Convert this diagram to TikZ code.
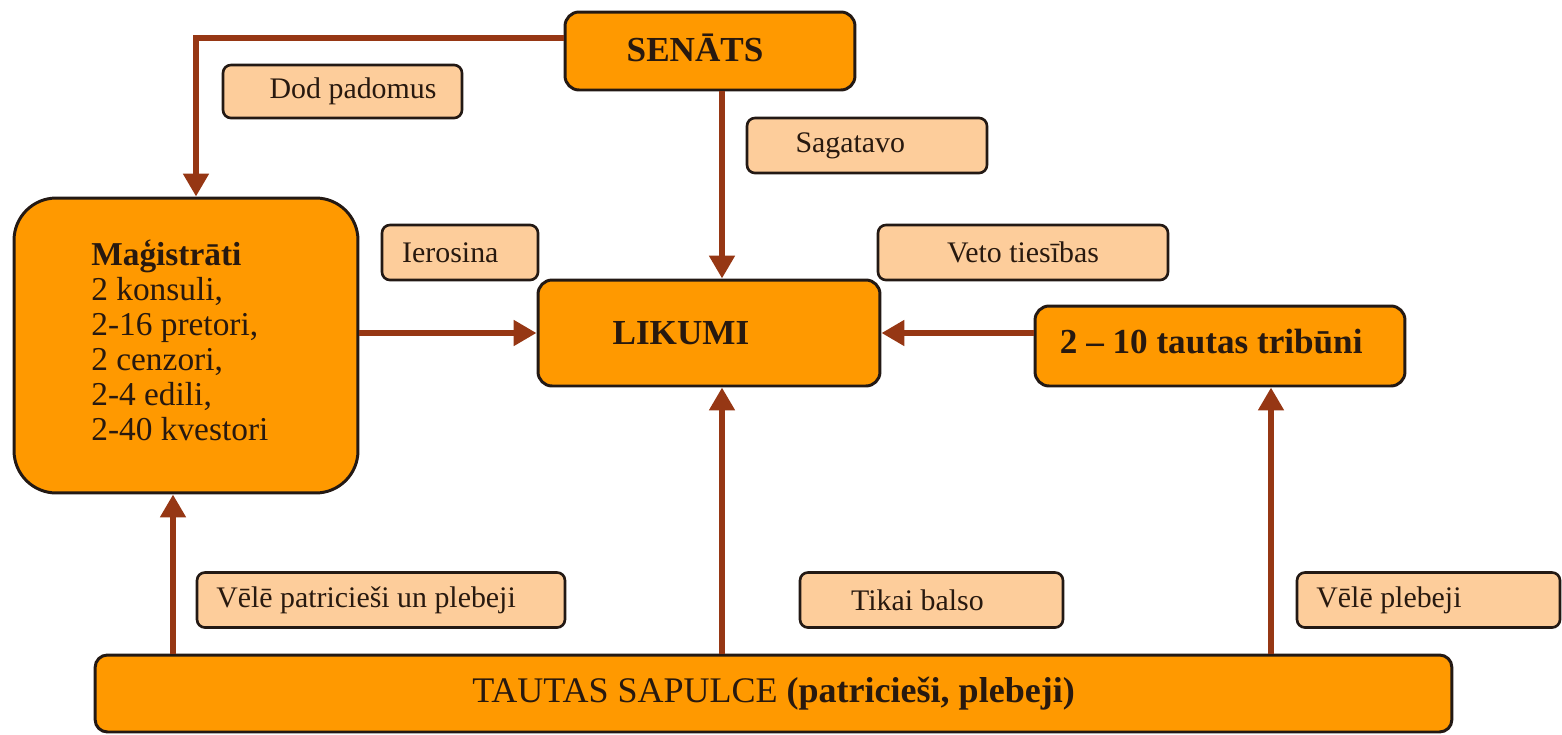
\documentclass[tikz,border=0pt]{standalone}
\usepackage{fontspec}
\setmainfont{Liberation Serif}
\usetikzlibrary{arrows.meta}
\definecolor{boxfill}{RGB}{255,153,0}
\definecolor{lblfill}{RGB}{253,205,155}
\definecolor{arr}{RGB}{150,55,20}
\definecolor{edge}{RGB}{35,25,20}
\definecolor{ink}{RGB}{40,25,15}
\begin{document}
\begin{tikzpicture}[x=0.02cm,y=-0.02cm,
  mainbox/.style={draw=edge,line width=1.7pt,fill=boxfill,rounded corners=8pt,inner sep=0pt,text=ink},
  lblbox/.style={draw=edge,line width=1.5pt,fill=lblfill,rounded corners=4.5pt,inner sep=0pt,text=ink,
    minimum height=1.1cm,font=\fontsize{17}{20}\selectfont},
  conn/.style={draw=arr,line width=3.4pt,-{Triangle[width=14pt,length=13pt]}}]
\useasboundingbox (0,0) rectangle (1562,734);
% main boxes
\node[mainbox,minimum width=5.8cm,minimum height=1.56cm,font=\bfseries\fontsize{20}{24}\selectfont] (senats) at (710,51) {\raisebox{4pt}{SENĀTS}\hspace*{17pt}};
\node[mainbox,minimum width=6.88cm,minimum height=5.9cm,rounded corners=24pt,font=\fontsize{19}{20}\selectfont] (magis) at (186,345.5)
  {\begin{tabular}{@{}l@{}}\textbf{Maģistrāti}\\2 konsuli,\\2-16 pretori,\\2 cenzori,\\2-4 edili,\\2-40 kvestori\end{tabular}\hspace*{7pt}};
\node[mainbox,minimum width=6.84cm,minimum height=2.12cm,font=\bfseries\fontsize{20}{24}\selectfont] (likumi) at (709,333) {LIKUMI\hspace*{32pt}};
\node[mainbox,minimum width=7.4cm,minimum height=1.6cm,font=\bfseries\fontsize{20}{24}\selectfont] (trib) at (1220,346) {\raisebox{5pt}{2 – 10 tautas tribūni}\hspace*{10pt}};
\node[mainbox,minimum width=27.14cm,minimum height=1.54cm,rounded corners=7pt,font=\fontsize{20.5}{24}\selectfont] (tautas) at (773.5,693.5) {TAUTAS SAPULCE \textbf{(patricieši, plebeji)}};
% label boxes
\node[lblbox,minimum width=4.78cm,minimum height=1.06cm] (dod) at (342.5,91.5) {\hspace*{12pt}Dod padomus};
\node[lblbox,minimum width=4.8cm] (sag) at (867,145.5) {Sagatavo\hspace*{19pt}};
\node[lblbox,minimum width=3.12cm] (ier) at (460,252.5) {Ierosina\hspace*{11pt}};
\node[lblbox,minimum width=5.8cm] (veto) at (1023,252.5) {Veto tiesības};
\node[lblbox,minimum width=7.36cm] (vpp) at (381,600) {Vēlē patricieši un plebeji\hspace*{17pt}};
\node[lblbox,minimum width=5.26cm] (tik) at (931.5,600) {Tikai balso\hspace*{16pt}};
\node[lblbox,minimum width=5.26cm] (vp) at (1428.5,600) {Vēlē plebeji\hspace*{45pt}};
% helper coordinates
\coordinate (cx) at (722,0);
\coordinate (ly) at (0,333);
\coordinate (ax1) at (173,0);
\coordinate (ax3) at (1271,0);
\coordinate (mx) at (196,0);
\coordinate (sy) at (0,38);
% connectors
\draw[conn] (senats.west |- sy) -| (magis.north -| mx);
\draw[conn] (senats.south -| cx) -- (likumi.north -| cx);
\draw[conn] (magis.east |- ly) -- (likumi.west |- ly);
\draw[conn] (trib.west |- ly) -- (likumi.east |- ly);
\draw[conn] (tautas.north -| ax1) -- (magis.south -| ax1);
\draw[conn] (tautas.north -| cx) -- (likumi.south -| cx);
\draw[conn] (tautas.north -| ax3) -- (trib.south -| ax3);
\end{tikzpicture}
\end{document}
